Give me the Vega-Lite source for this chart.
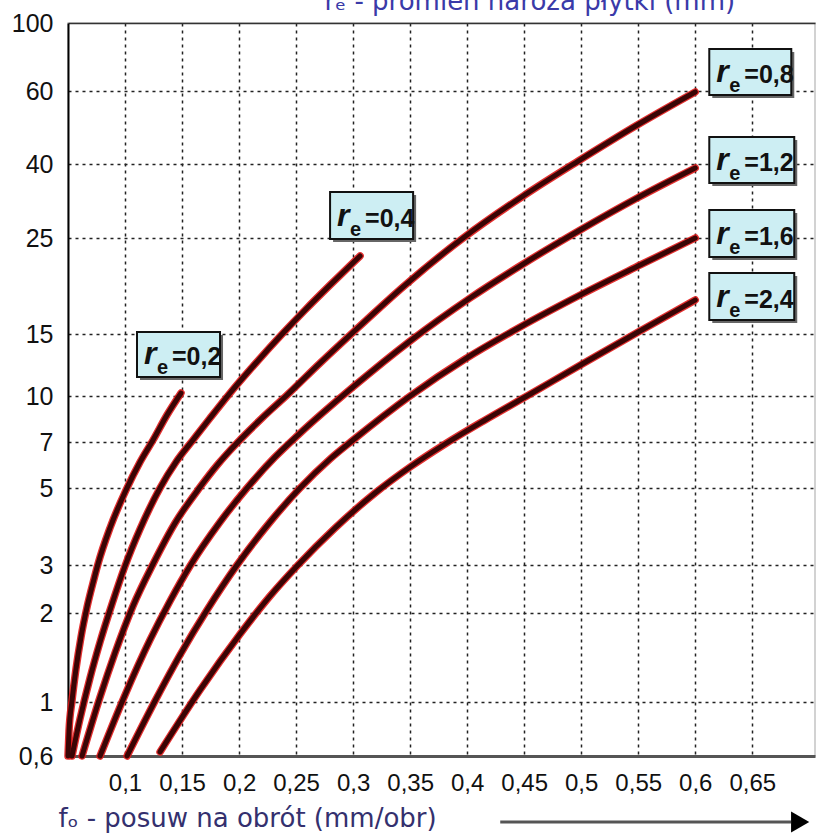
{
  "$schema": "https://vega.github.io/schema/vega-lite/v6.json",
  "width": 747,
  "height": 733,
  "autosize": {"type": "none"},
  "padding": {"left": 68, "top": 23, "right": 11, "bottom": 80},
  "background": "white",
  "config": {
    "view": {"stroke": "#c4c4c4", "strokeWidth": 1.5}
  },
  "datasets": {
    "curves": [
      {"r": "0,2", "i": 0, "x": 0.05, "y": 0.6},
      {"r": "0,2", "i": 1, "x": 0.0509, "y": 0.785},
      {"r": "0,2", "i": 2, "x": 0.0535, "y": 1.011},
      {"r": "0,2", "i": 3, "x": 0.057, "y": 1.371},
      {"r": "0,2", "i": 4, "x": 0.0614, "y": 1.73},
      {"r": "0,2", "i": 5, "x": 0.0667, "y": 2.125},
      {"r": "0,2", "i": 6, "x": 0.0728, "y": 2.708},
      {"r": "0,2", "i": 7, "x": 0.0763, "y": 3.026},
      {"r": "0,2", "i": 8, "x": 0.0868, "y": 3.961},
      {"r": "0,2", "i": 9, "x": 0.1009, "y": 4.948},
      {"r": "0,2", "i": 10, "x": 0.1132, "y": 6.13},
      {"r": "0,2", "i": 11, "x": 0.1246, "y": 7.13},
      {"r": "0,2", "i": 12, "x": 0.1368, "y": 8.761},
      {"r": "0,2", "i": 13, "x": 0.1491, "y": 10.24},
      {"r": "0,4", "i": 0, "x": 0.0535, "y": 0.6},
      {"r": "0,4", "i": 1, "x": 0.0605, "y": 0.874},
      {"r": "0,4", "i": 2, "x": 0.0693, "y": 1.27},
      {"r": "0,4", "i": 3, "x": 0.0781, "y": 1.674},
      {"r": "0,4", "i": 4, "x": 0.0886, "y": 2.188},
      {"r": "0,4", "i": 5, "x": 0.1, "y": 2.979},
      {"r": "0,4", "i": 6, "x": 0.1132, "y": 3.935},
      {"r": "0,4", "i": 7, "x": 0.1307, "y": 5},
      {"r": "0,4", "i": 8, "x": 0.1447, "y": 6.13},
      {"r": "0,4", "i": 9, "x": 0.1596, "y": 7.13},
      {"r": "0,4", "i": 10, "x": 0.1746, "y": 8.565},
      {"r": "0,4", "i": 11, "x": 0.1921, "y": 10.24},
      {"r": "0,4", "i": 12, "x": 0.214, "y": 12.58},
      {"r": "0,4", "i": 13, "x": 0.2386, "y": 15.1},
      {"r": "0,4", "i": 14, "x": 0.2579, "y": 17.5},
      {"r": "0,4", "i": 15, "x": 0.2798, "y": 20.1},
      {"r": "0,4", "i": 16, "x": 0.3061, "y": 23.13},
      {"r": "0,8", "i": 0, "x": 0.0623, "y": 0.6},
      {"r": "0,8", "i": 1, "x": 0.0781, "y": 1.056},
      {"r": "0,8", "i": 2, "x": 0.0912, "y": 1.551},
      {"r": "0,8", "i": 3, "x": 0.107, "y": 2.146},
      {"r": "0,8", "i": 4, "x": 0.1246, "y": 3.026},
      {"r": "0,8", "i": 5, "x": 0.1439, "y": 4.091},
      {"r": "0,8", "i": 6, "x": 0.1658, "y": 5.04},
      {"r": "0,8", "i": 7, "x": 0.1816, "y": 6.043},
      {"r": "0,8", "i": 8, "x": 0.1982, "y": 6.957},
      {"r": "0,8", "i": 9, "x": 0.2202, "y": 8.565},
      {"r": "0,8", "i": 10, "x": 0.2421, "y": 10.08},
      {"r": "0,8", "i": 11, "x": 0.2711, "y": 12.66},
      {"r": "0,8", "i": 12, "x": 0.2974, "y": 14.92},
      {"r": "0,8", "i": 13, "x": 0.3456, "y": 20.1},
      {"r": "0,8", "i": 14, "x": 0.3965, "y": 25},
      {"r": "0,8", "i": 15, "x": 0.4491, "y": 33.51},
      {"r": "0,8", "i": 16, "x": 0.4974, "y": 40.82},
      {"r": "0,8", "i": 17, "x": 0.5491, "y": 50.68},
      {"r": "0,8", "i": 18, "x": 0.6, "y": 59.73},
      {"r": "1,2", "i": 0, "x": 0.0781, "y": 0.6},
      {"r": "1,2", "i": 1, "x": 0.1, "y": 1.079},
      {"r": "1,2", "i": 2, "x": 0.1219, "y": 1.697},
      {"r": "1,2", "i": 3, "x": 0.1395, "y": 2.25},
      {"r": "1,2", "i": 4, "x": 0.157, "y": 2.979},
      {"r": "1,2", "i": 5, "x": 0.1833, "y": 4.117},
      {"r": "1,2", "i": 6, "x": 0.207, "y": 5},
      {"r": "1,2", "i": 7, "x": 0.2316, "y": 6.348},
      {"r": "1,2", "i": 8, "x": 0.2518, "y": 7.457},
      {"r": "1,2", "i": 9, "x": 0.3, "y": 10.73},
      {"r": "1,2", "i": 10, "x": 0.35, "y": 14.44},
      {"r": "1,2", "i": 11, "x": 0.4026, "y": 18.75},
      {"r": "1,2", "i": 12, "x": 0.4491, "y": 22.29},
      {"r": "1,2", "i": 13, "x": 0.4991, "y": 26.62},
      {"r": "1,2", "i": 14, "x": 0.5491, "y": 33.11},
      {"r": "1,2", "i": 15, "x": 0.6, "y": 39.19},
      {"r": "1,6", "i": 0, "x": 0.1018, "y": 0.6},
      {"r": "1,6", "i": 1, "x": 0.1263, "y": 1.011},
      {"r": "1,6", "i": 2, "x": 0.1482, "y": 1.528},
      {"r": "1,6", "i": 3, "x": 0.1719, "y": 2.063},
      {"r": "1,6", "i": 4, "x": 0.1982, "y": 3},
      {"r": "1,6", "i": 5, "x": 0.2272, "y": 4.117},
      {"r": "1,6", "i": 6, "x": 0.2535, "y": 5},
      {"r": "1,6", "i": 7, "x": 0.2798, "y": 6.261},
      {"r": "1,6", "i": 8, "x": 0.3, "y": 7.13},
      {"r": "1,6", "i": 9, "x": 0.35, "y": 10},
      {"r": "1,6", "i": 10, "x": 0.3982, "y": 12.98},
      {"r": "1,6", "i": 11, "x": 0.4465, "y": 15.73},
      {"r": "1,6", "i": 12, "x": 0.4991, "y": 19.06},
      {"r": "1,6", "i": 13, "x": 0.5518, "y": 22.19},
      {"r": "1,6", "i": 14, "x": 0.6, "y": 25},
      {"r": "2,4", "i": 0, "x": 0.1307, "y": 0.63},
      {"r": "2,4", "i": 1, "x": 0.1658, "y": 1.135},
      {"r": "2,4", "i": 2, "x": 0.2009, "y": 1.764},
      {"r": "2,4", "i": 3, "x": 0.2272, "y": 2.354},
      {"r": "2,4", "i": 4, "x": 0.2509, "y": 2.979},
      {"r": "2,4", "i": 5, "x": 0.2842, "y": 3.961},
      {"r": "2,4", "i": 6, "x": 0.3193, "y": 4.87},
      {"r": "2,4", "i": 7, "x": 0.35, "y": 5.913},
      {"r": "2,4", "i": 8, "x": 0.3807, "y": 6.913},
      {"r": "2,4", "i": 9, "x": 0.4158, "y": 8.435},
      {"r": "2,4", "i": 10, "x": 0.4509, "y": 9.935},
      {"r": "2,4", "i": 11, "x": 0.5009, "y": 12.58},
      {"r": "2,4", "i": 12, "x": 0.55, "y": 15.21},
      {"r": "2,4", "i": 13, "x": 0.6, "y": 18.54}
    ],
    "labels": [
      {"lab": "=0,2", "x": 0.1105, "xr": 0.1833, "y": 11.53, "yt": 15.21},
      {"lab": "=0,4", "x": 0.2798, "xr": 0.3526, "y": 24.9, "yt": 34.32},
      {"lab": "=0,8", "x": 0.6123, "xr": 0.6842, "y": 58.9, "yt": 84.71},
      {"lab": "=1,2", "x": 0.6123, "xr": 0.6868, "y": 36.15, "yt": 47.4},
      {"lab": "=1,6", "x": 0.6123, "xr": 0.6868, "y": 23.02, "yt": 30.68},
      {"lab": "=2,4", "x": 0.6123, "xr": 0.6868, "y": 16.46, "yt": 21.35}
    ]
  },
  "encoding": {
    "x": {
      "field": "x", "type": "quantitative",
      "scale": {"domain": [0.05, 0.705], "nice": false, "zero": false},
      "axis": {
        "values": [0.1, 0.15, 0.2, 0.25, 0.3, 0.35, 0.4, 0.45, 0.5, 0.55, 0.6, 0.65],
        "labelExpr": "replace(toString(datum.value), '.', ',')",
        "grid": true, "gridDash": [3, 4], "gridColor": "#222", "gridWidth": 1.5,
        "ticks": false, "tickSize": 0,
        "domainColor": "#555", "domainWidth": 3,
        "labelFont": "Liberation Sans",
        "labelFontSize": 24, "labelColor": "#111", "labelPadding": 15,
        "labelOverlap": false, "labelFlush": false,
        "title": "fₒ - posuw na obrót (mm/obr)",
        "titleFont": "DejaVu Sans", "titleFontSize": 26, "titleFontWeight": "normal",
        "titleColor": "#34306e", "titleAnchor": "start", "titleAlign": "left",
        "titleX": -10, "titleY": 70, "titleBaseline": "alphabetic"
      }
    },
    "y": {
      "field": "y", "type": "quantitative",
      "scale": {"domain": [0.6, 1, 2, 3, 5, 7, 10, 15, 25, 40, 60, 100], "range": [733, 679, 590, 542, 465, 419, 373, 311, 215, 141, 68, 0], "nice": false, "zero": false},
      "axis": {
        "values": [0.6, 1, 2, 3, 5, 7, 10, 15, 25, 40, 60, 100],
        "labelExpr": "replace(toString(datum.value), '.', ',')",
        "grid": true,
        "gridDash": {"condition": {"test": "datum.value == 100", "value": []}, "value": [3, 4]},
        "gridColor": {"condition": {"test": "datum.value == 100", "value": "#333"}, "value": "#222"},
        "gridWidth": 1.5,
        "ticks": false, "tickSize": 0,
        "domainColor": "#000", "domainWidth": 2,
        "labelFont": "Liberation Sans",
        "labelFontSize": 25, "labelColor": "#111", "labelPadding": 15,
        "labelOverlap": false, "labelFlush": false,
        "title": null
      }
    }
  },
  "layer": [
    {
      "data": {"name": "curves"},
      "mark": {"type": "line", "interpolate": "monotone", "stroke": "#e01818", "strokeWidth": 7.5, "strokeCap": "round", "opacity": 0.9},
      "encoding": {"detail": {"field": "r"}, "order": {"field": "i"}}
    },
    {
      "data": {"name": "curves"},
      "mark": {"type": "line", "interpolate": "monotone", "stroke": "#3a0505", "strokeWidth": 5, "strokeCap": "round"},
      "encoding": {"detail": {"field": "r"}, "order": {"field": "i"}}
    },
    {
      "data": {"name": "labels"},
      "mark": {"type": "rect", "fill": "#666", "xOffset": 3, "x2Offset": 3, "yOffset": 3, "y2Offset": 3},
      "encoding": {"x2": {"field": "xr"}, "y2": {"field": "yt"}}
    },
    {
      "data": {"name": "labels"},
      "mark": {"type": "rect", "fill": "#cdeef3", "stroke": "#111", "strokeWidth": 2},
      "encoding": {"x2": {"field": "xr"}, "y2": {"field": "yt"}}
    },
    {
      "data": {"name": "labels"},
      "mark": {"type": "text", "align": "left", "baseline": "alphabetic", "dx": 7, "dy": -13, "font": "Liberation Sans", "fontSize": 32, "fontWeight": "bold", "fontStyle": "italic", "color": "#111"},
      "encoding": {"text": {"value": "r"}}
    },
    {
      "data": {"name": "labels"},
      "mark": {"type": "text", "align": "left", "baseline": "alphabetic", "dx": 20, "dy": -3, "font": "Liberation Sans", "fontSize": 20, "fontWeight": "bold", "color": "#111"},
      "encoding": {"text": {"value": "e"}}
    },
    {
      "data": {"name": "labels"},
      "mark": {"type": "text", "align": "left", "baseline": "alphabetic", "dx": 35, "dy": -12, "font": "Liberation Sans", "fontSize": 25, "fontWeight": "bold", "color": "#111"},
      "encoding": {"text": {"field": "lab"}}
    },
    {
      "data": {"values": [{"x": 0.429, "xe": 0.684, "y": 0.6}]},
      "mark": {"type": "rule", "stroke": "#555", "strokeWidth": 3, "yOffset": 66},
      "encoding": {"x2": {"field": "xe"}}
    },
    {
      "data": {"values": [{"x": 0.692, "y": 0.6}]},
      "mark": {"type": "point", "shape": "triangle-right", "filled": true, "fill": "#000", "opacity": 1, "size": 440, "yOffset": 66}
    },
    {
      "data": {"values": [{"x": 0.275, "y": 100, "t": "rₑ - promień naroża płytki (mm)"}]},
      "mark": {"type": "text", "align": "left", "baseline": "alphabetic", "dy": -13, "font": "DejaVu Sans", "fontSize": 26, "color": "#3a3aa8"},
      "encoding": {"text": {"field": "t"}}
    }
  ]
}
